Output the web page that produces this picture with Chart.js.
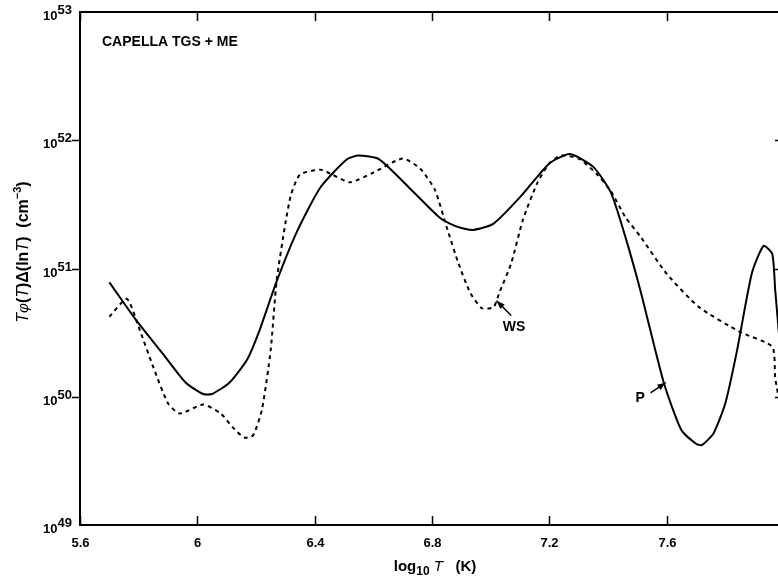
<!DOCTYPE html>
<html>
<head>
<meta charset="utf-8">
<script src="https://cdn.jsdelivr.net/npm/chart.js@4/dist/chart.umd.min.js"></script>
<style>
html, body { margin: 0; padding: 0; overflow: hidden; background: #fff; }
#wrap { width: 792px; height: 578px; }
</style>
</head>
<body>
<div id="wrap"><canvas id="emChart" width="792" height="578"></canvas></div>
<script>
// emission measure, solid curve (P)
var solidT = [5.70, 5.79, 5.88, 5.96, 6.02, 6.05, 6.11, 6.17, 6.21, 6.27, 6.34, 6.42, 6.51, 6.55, 6.62, 6.73, 6.83, 6.89, 6.94, 7.01,
              7.10, 7.20, 7.27, 7.35, 7.41, 7.46, 7.51, 7.59, 7.65, 7.70, 7.72, 7.76, 7.80, 7.84, 7.89, 7.93, 7.96, 7.97, 7.99];
var solidEm = [7.8e50, 4.0e50, 2.2e50, 1.29e50, 1.05e50, 1.05e50, 1.29e50, 1.95e50, 3.2e50, 7.9e50, 1.95e51, 4.3e51, 7.1e51, 7.6e51, 7.1e51, 4.1e51, 2.45e51, 2.1e51, 2.0e51, 2.24e51,
               3.6e51, 6.6e51, 7.8e51, 6.2e51, 3.9e51, 1.74e51, 6.8e50, 1.29e50, 5.5e49, 4.3e49, 4.2e49, 5.2e49, 8.9e49, 2.3e50, 9.1e50, 1.5e51, 1.3e51, 6.8e50, 2.0e50];

// emission measure, dashed curve (WS)
var dashT = [5.70, 5.76, 5.80, 5.85, 5.90, 5.94, 6.02, 6.08, 6.12, 6.16, 6.19, 6.22, 6.25, 6.27, 6.30, 6.32, 6.35, 6.42, 6.46, 6.52,
             6.60, 6.70, 6.76, 6.81, 6.85, 6.89, 6.93, 6.97, 7.01, 7.03, 7.07, 7.11, 7.16, 7.20, 7.24, 7.30, 7.36, 7.41, 7.46, 7.51,
             7.60, 7.71, 7.85, 7.96, 7.97, 7.99];
var dashEm = [4.2e50, 5.8e50, 3.5e50, 1.7e50, 8.9e49, 7.4e49, 8.7e49, 7.4e49, 5.8e49, 4.8e49, 5.0e49, 7.9e49, 2.3e50, 7.9e50, 2.24e51, 3.8e51, 5.4e51, 5.9e51, 5.4e51, 4.7e51,
              5.6e51, 7.2e51, 6.0e51, 4.1e51, 2.1e51, 1.1e51, 6.5e50, 4.9e50, 5.0e50, 6.5e50, 1.1e51, 2.4e51, 4.7e51, 6.6e51, 7.6e51, 7.2e51, 5.5e51, 4.0e51, 2.5e51, 1.78e51,
              9.1e50, 5.0e50, 3.2e50, 2.45e50, 1.4e50, 7.9e49];

var xTicks = [5.6, 6, 6.4, 6.8, 7.2, 7.6, 8.0];
var xTickLabels = ['5.6', '6', '6.4', '6.8', '7.2', '7.6', ''];
var yTicks = [1e49, 1e50, 1e51, 1e52, 1e53];
var yTickExp = ['49', '50', '51', '52', '53'];

function toPoints(xs, ys) {
    return xs.map(function (x, i) { return { x: x, y: ys[i] }; });
}

var FONT = '"Liberation Sans", Arial, sans-serif';

// draw a row of text pieces with different fonts / offsets
function drawRuns(ctx, parts, x, y, align) {
    var total = 0;
    parts.forEach(function (p) { ctx.font = p.f; p.w = ctx.measureText(p.t).width; total += p.w; });
    var cx = align === 'center' ? x - total / 2 : (align === 'right' ? x - total : x);
    parts.forEach(function (p) {
        ctx.font = p.f;
        ctx.fillText(p.t, cx, y + (p.dy || 0));
        cx += p.w;
    });
}

function drawArrow(ctx, x1, y1, x2, y2) {
    var a = Math.atan2(y2 - y1, x2 - x1);
    ctx.beginPath();
    ctx.moveTo(x1, y1);
    ctx.lineTo(x2, y2);
    ctx.stroke();
    ctx.beginPath();
    ctx.moveTo(x2, y2);
    ctx.lineTo(x2 - 9 * Math.cos(a - 0.35), y2 - 9 * Math.sin(a - 0.35));
    ctx.lineTo(x2 - 9 * Math.cos(a + 0.35), y2 - 9 * Math.sin(a + 0.35));
    ctx.closePath();
    ctx.fill();
}

var framePlugin = {
    id: 'frame',
    afterDraw: function (chart) {
        var ctx = chart.ctx, a = chart.chartArea;
        var xs = chart.scales.x, ys = chart.scales.y;
        ctx.save();
        ctx.strokeStyle = '#000';
        ctx.fillStyle = '#000';
        ctx.lineWidth = 2;
        ctx.strokeRect(a.left, a.top, a.right - a.left, a.bottom - a.top);

        // x ticks (inward, bottom and top)
        ctx.lineWidth = 1.5;
        ctx.textAlign = 'center';
        ctx.textBaseline = 'middle';
        xTicks.forEach(function (v, i) {
            var px = Math.round(xs.getPixelForValue(v)) + 0.5;
            ctx.beginPath();
            ctx.moveTo(px, a.bottom); ctx.lineTo(px, a.bottom - 9);
            ctx.moveTo(px, a.top); ctx.lineTo(px, a.top + 9);
            ctx.stroke();
            ctx.font = 'bold 13px ' + FONT;
            ctx.fillText(xTickLabels[i], px, a.bottom + 18);
        });

        // y ticks (left outward, right inward)
        ctx.textAlign = 'left';
        ctx.textBaseline = 'alphabetic';
        yTicks.forEach(function (v, i) {
            var py = Math.round(ys.getPixelForValue(v)) + 0.5;
            if (i > 0 && i < yTicks.length - 1) {
                ctx.beginPath();
                ctx.moveTo(a.left - 8, py); ctx.lineTo(a.left, py);
                ctx.moveTo(a.right - 9, py); ctx.lineTo(a.right, py);
                ctx.stroke();
            }
            drawRuns(ctx, [
                { t: '10', f: 'bold 13px ' + FONT },
                { t: yTickExp[i], f: 'bold 13px ' + FONT, dy: -6 }
            ], a.left - 8, py + 7, 'right');
        });

        // plot label
        ctx.font = 'bold 14px ' + FONT;
        ctx.textAlign = 'left';
        ctx.fillText('CAPELLA TGS + ME', a.left + 22, a.top + 34);

        // x axis title
        drawRuns(ctx, [
            { t: 'log', f: 'bold 15px ' + FONT },
            { t: '10', f: 'bold 12px ' + FONT, dy: 4 },
            { t: ' T', f: 'italic 15px ' + FONT },
            { t: '   (K)', f: 'bold 15px ' + FONT }
        ], (a.left + 778) / 2 + 6, a.bottom + 46, 'center');

        // y axis title
        ctx.save();
        ctx.translate(28, 252);
        ctx.rotate(-Math.PI / 2);
        drawRuns(ctx, [
            { t: 'T', f: 'italic 16px ' + FONT },
            { t: '\u03C6', f: 'italic 15px ' + FONT },
            { t: '(', f: 'bold 16px ' + FONT },
            { t: 'T', f: 'italic 16px ' + FONT },
            { t: ')\u0394(ln', f: 'bold 16px ' + FONT },
            { t: 'T', f: 'italic 16px ' + FONT },
            { t: ')  (cm', f: 'bold 16px ' + FONT },
            { t: '\u22123', f: 'bold 11px ' + FONT, dy: -7 },
            { t: ')', f: 'bold 16px ' + FONT }
        ], 0, 0, 'center');
        ctx.restore();

        // curve labels with arrows
        ctx.lineWidth = 1.5;
        drawArrow(ctx, xs.getPixelForValue(7.07), ys.getPixelForValue(4.3e50),
                       xs.getPixelForValue(7.02), ys.getPixelForValue(5.6e50));
        drawArrow(ctx, xs.getPixelForValue(7.545), ys.getPixelForValue(1.07e50),
                       xs.getPixelForValue(7.597), ys.getPixelForValue(1.29e50));
        ctx.font = 'bold 14px ' + FONT;
        ctx.textAlign = 'center';
        ctx.textBaseline = 'middle';
        ctx.fillText('WS', xs.getPixelForValue(7.08), ys.getPixelForValue(3.5e50));
        ctx.fillText('P', xs.getPixelForValue(7.51), ys.getPixelForValue(9.8e49));
        ctx.restore();
    }
};

var ctx = document.getElementById('emChart').getContext('2d');
var chart = new Chart(ctx, {
    type: 'line',
    data: {
        datasets: [{
            label: 'P',
            data: toPoints(solidT, solidEm),
            borderColor: '#000',
            borderWidth: 2,
            pointRadius: 0,
            tension: 0.2
        }, {
            label: 'WS',
            data: toPoints(dashT, dashEm),
            borderColor: '#000',
            borderWidth: 2,
            borderDash: [4, 4],
            pointRadius: 0,
            tension: 0.2
        }]
    },
    options: {
        responsive: false,
        animation: false,
        layout: { padding: { left: 80, right: 8, top: 12, bottom: 53 } },
        plugins: { legend: { display: false }, tooltip: { enabled: false } },
        scales: {
            x: { type: 'linear', min: 5.6, max: 8.0, display: false },
            y: { type: 'logarithmic', min: 1e49, max: 1e53, display: false }
        }
    },
    plugins: [framePlugin]
});
</script>
</body>
</html>
